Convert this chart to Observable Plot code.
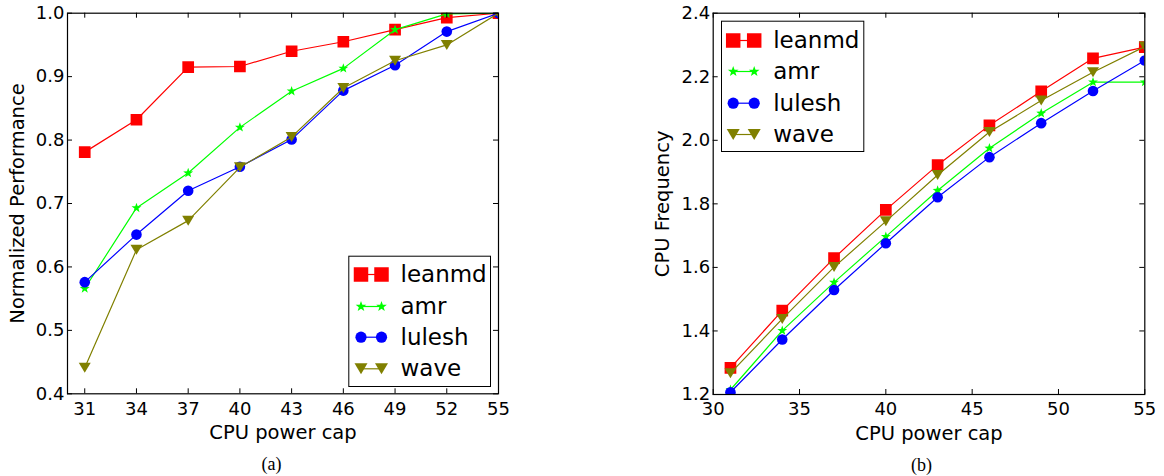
<!DOCTYPE html>
<html><head><meta charset="utf-8">
<script src="https://cdn.jsdelivr.net/npm/d3@7"></script>
<script src="https://cdn.jsdelivr.net/npm/@observablehq/plot@0.6"></script>
<style>
html,body{margin:0;padding:0;background:#fff;}
#wrap{position:relative;width:1164px;height:476px;display:flex;}
</style></head><body><div id="wrap"></div>
<script>
// ---- data ----
const seriesNames = ["leanmd", "amr", "lulesh", "wave"];
const seriesColors = ["#ff0000", "#00ff00", "#0000ff", "#808000"];
const powerCaps = [31, 34, 37, 40, 43, 46, 49, 52, 55];

const perfLeanmd = [0.781, 0.832, 0.915, 0.916, 0.940, 0.955, 0.974, 0.993, 1.0];
const perfAmr    = [0.566, 0.693, 0.748, 0.820, 0.877, 0.913, 0.974, 0.999, 1.0];
const perfLulesh = [0.576, 0.651, 0.720, 0.758, 0.801, 0.878, 0.918, 0.971, 1.0];
const perfWave   = [0.441, 0.627, 0.673, 0.757, 0.805, 0.882, 0.925, 0.950, 1.0];

const freqLeanmd = [1.284, 1.464, 1.629, 1.781, 1.922, 2.047, 2.154, 2.258, 2.293];
const freqAmr    = [1.215, 1.401, 1.553, 1.697, 1.842, 1.975, 2.085, 2.183, 2.183];
const freqLulesh = [1.207, 1.373, 1.529, 1.676, 1.821, 1.947, 2.054, 2.155, 2.251];
const freqWave   = [1.267, 1.438, 1.601, 1.745, 1.891, 2.026, 2.125, 2.214, 2.295];

const perfXTicks = [31, 34, 37, 40, 43, 46, 49, 52, 55];
const perfYTicks = [0.4, 0.5, 0.6, 0.7, 0.8, 0.9, 1.0];
const freqXTicks = [30, 35, 40, 45, 50, 55];
const freqYTicks = [1.2, 1.4, 1.6, 1.8, 2.0, 2.2, 2.4];

// ---- symbols ----
const sqr = s => ({draw(c){c.rect(-s/2,-s/2,s,s);}});
const circ = r => ({draw(c){c.moveTo(r,0);c.arc(0,0,r,0,2*Math.PI);c.closePath();}});
const triDown = (w,h) => ({draw(c){c.moveTo(-w/2,-h/2);c.lineTo(w/2,-h/2);c.lineTo(0,h/2);c.closePath();}});
const star = (R,r) => ({draw(c){for(let k=0;k<10;k++){const a=-Math.PI/2+k*Math.PI/5;const rr=k%2?r:R;const x=rr*Math.cos(a),y=rr*Math.sin(a);k?c.lineTo(x,y):c.moveTo(x,y);}c.closePath();}});
const hline = l => ({draw(c){c.moveTo(-l/2,0);c.lineTo(l/2,0);}});

const plotSymbols = [sqr(11.7), star(5.2,2.1), circ(5.3), triDown(12,10)];
const legendSymbols = [sqr(14.5), star(5.6,2.3), circ(5.6), triDown(13,11)];

function panel({series, xDomain, yDomain, xTicks, yTicks, width, margins, yLabel, yLabelDx,
                legend, caption, captionDx}) {
  const [mt, mr, mb, ml] = margins;
  const H = 476, fw = width - ml - mr, fh = H - mt - mb;
  const marks = [];
  series.forEach((vals, i) => {
    const rows = powerCaps.map((c, j) => ({cap: c, v: vals[j]}));
    marks.push(Plot.line(rows, {x: "cap", y: "v", stroke: seriesColors[i], strokeWidth: 1.2, clip: true}));
    marks.push(Plot.dot(rows, {x: "cap", y: "v", symbol: plotSymbols[i], fill: seriesColors[i], stroke: "none", clip: true}));
  });
  // inward ticks on all sides
  marks.push(Plot.tickX(xTicks, {x: d => d, insetTop: fh - 5, stroke: "black"}));
  marks.push(Plot.tickX(xTicks, {x: d => d, insetBottom: fh - 5, stroke: "black"}));
  marks.push(Plot.tickY(yTicks, {y: d => d, insetRight: fw - 5, stroke: "black"}));
  marks.push(Plot.tickY(yTicks, {y: d => d, insetLeft: fw - 5, stroke: "black"}));
  marks.push(Plot.axisX(xTicks, {tickSize: 0, tickPadding: 8, fontSize: 18, label: null}));
  marks.push(Plot.axisY(yTicks, {tickSize: 0, tickPadding: 3, fontSize: 18, tickFormat: d3.format(".1f"), label: null}));
  marks.push(Plot.frame({stroke: "black", strokeWidth: 1.2}));
  // axis labels
  marks.push(Plot.text(["CPU power cap"], {frameAnchor: "bottom", dy: 39, fontSize: 19.5, text: d => d,
                                           textAnchor: "middle", lineAnchor: "middle"}));
  marks.push(Plot.text([yLabel], {frameAnchor: "left", dx: yLabelDx, rotate: -90, fontSize: 19.5, text: d => d,
                                  textAnchor: "middle", lineAnchor: "middle"}));
  // legend
  const L = legend;
  marks.push(Plot.frame({insetLeft: L.box[0], insetTop: L.box[1], insetRight: L.box[2], insetBottom: L.box[3],
                         fill: "white", stroke: "black", strokeWidth: 1}));
  seriesNames.forEach((name, i) => {
    const dy = L.rows[i];
    marks.push(Plot.dot([0], {frameAnchor: "top-left", dx: (L.m1 + L.m2) / 2, dy, symbol: hline(L.m2 - L.m1), stroke: seriesColors[i], fill: "none", strokeWidth: 1.2}));
    marks.push(Plot.dot([0], {frameAnchor: "top-left", dx: L.m1, dy, symbol: legendSymbols[i], fill: seriesColors[i], stroke: "none"}));
    marks.push(Plot.dot([0], {frameAnchor: "top-left", dx: L.m2, dy, symbol: legendSymbols[i], fill: seriesColors[i], stroke: "none"}));
    marks.push(Plot.text([name], {frameAnchor: "top-left", dx: L.tx, dy, text: d => d, textAnchor: "start", lineAnchor: "middle", fontSize: 23}));
  });
  // caption
  marks.push(Plot.text([caption], {frameAnchor: "bottom", dx: captionDx, dy: 70.5, text: d => d,
                                   fontFamily: "Liberation Serif", fontSize: 18, textAnchor: "middle", lineAnchor: "middle"}));
  return Plot.plot({
    width, height: H,
    marginTop: mt, marginRight: mr, marginBottom: mb, marginLeft: ml,
    x: {domain: xDomain, label: null},
    y: {domain: yDomain, label: null},
    style: {fontFamily: "DejaVu Sans", color: "black", background: "white", overflow: "visible"},
    marks
  });
}

const wrap = document.getElementById("wrap");
const left = panel({
  series: [perfLeanmd, perfAmr, perfLulesh, perfWave],
  xDomain: [30, 55], yDomain: [0.4, 1.0], xTicks: perfXTicks, yTicks: perfYTicks,
  width: 582, margins: [12.7, 84, 82.7, 67],
  yLabel: "Normalized Performance", yLabelDx: -49.5,
  legend: {box: [281.3, 243, 8, 7.3], rows: [261.3, 293.3, 324, 355.6], m1: 293.5, m2: 314, tx: 333},
  caption: "(a)", captionDx: -11.5
});
const right = panel({
  series: [freqLeanmd, freqAmr, freqLulesh, freqWave],
  xDomain: [30, 55], yDomain: [1.2, 2.4], xTicks: freqXTicks, yTicks: freqYTicks,
  width: 582, margins: [12.7, 19.7, 82, 130.7],
  yLabel: "CPU Frequency", yLabelDx: -50,
  legend: {box: [8.3, 8, 281, 243], rows: [27.3, 58.3, 90, 121.3], m1: 20, m2: 41, tx: 60},
  caption: "(b)", captionDx: -7.5
});
wrap.appendChild(left);
wrap.appendChild(right);
</script>
</body></html>
